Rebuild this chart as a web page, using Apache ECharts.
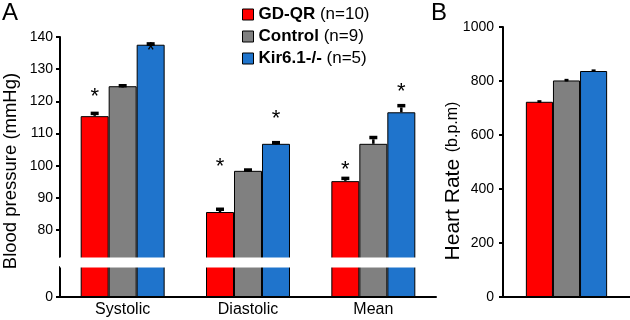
<!DOCTYPE html>
<html>
<head>
<meta charset="utf-8">
<script src="https://cdn.jsdelivr.net/npm/echarts@6/dist/echarts.min.js"></script>
<style>
html, body { margin: 0; padding: 0; background: #fff; }
#chart { width: 630px; height: 320px; }
</style>
</head>
<body>
<div id="chart"></div>
<script>
// 分组
let groupNames = ['GD-QR', 'Control', 'Kir6.1-/-'];
let groupN = ['(n=10)', '(n=9)', '(n=5)'];
let groupColors = ['#ff0000', '#808080', '#1f74cc'];

// 血压 (A)
let bpCategories = ['Systolic', 'Diastolic', 'Mean'];
let bpGdqr = [115.4, 85.6, 95.2];
let bpControl = [124.7, 98.4, 106.8];
let bpKir = [137.6, 106.8, 116.6];
let bpErrGdqr = [1.4, 1.4, 1.4];
let bpErrControl = [0.7, 0.8, 2.5];
let bpErrKir = [0.8, 0.9, 2.6];
// 星号位置 (mmHg)
let bpStarGdqr = [123.0, 101.1, 100.2];
let bpStarControl = [null, null, null];
let bpStarKir = [137.3, 116.0, 124.5];
let bpTicks = [0, 80, 90, 100, 110, 120, 130, 140];

// 心率 (B)
let hrGdqr = [723];
let hrControl = [802];
let hrKir = [837];
let hrErr = [6, 6, 6];
let hrTicks = [0, 200, 400, 600, 800, 1000];

let bpData = [bpGdqr, bpControl, bpKir];
let bpErr = [bpErrGdqr, bpErrControl, bpErrKir];
let bpStar = [bpStarGdqr, bpStarControl, bpStarKir];
let hrData = [hrGdqr, hrControl, hrKir];

const FONT = '"Liberation Sans", Arial, sans-serif';
const GAP_A = 0.33;
const GAP_B = 0.36;

// 误差线 + 星号
function errorBar(k, n, gap, capW, capH) {
    return function (params, api) {
        let cat = api.value(0),
            val = api.value(1),
            err = api.value(2),
            star = api.value(3);
        let band = api.size([1, 0])[0];
        let barW = band * (1 - gap) / n;
        let base = api.coord([cat, val]);
        let x = base[0] + (k - (n - 1) / 2) * barW;
        let yTop = api.coord([cat, val + err])[1];
        let children = [
            {
                type: 'line',
                shape: { x1: x, y1: base[1], x2: x, y2: yTop + capH },
                style: { stroke: '#000', lineWidth: 2.5 }
            },
            {
                type: 'rect',
                shape: { x: x - capW / 2, y: yTop, width: capW, height: capH },
                style: { fill: '#000' }
            }
        ];
        if (isFinite(star)) {
            children.push({
                type: 'text',
                x: x,
                y: api.coord([cat, star])[1] + 5,
                style: {
                    text: '*',
                    font: '22px ' + FONT,
                    fill: '#000',
                    textAlign: 'center',
                    textVerticalAlign: 'middle'
                }
            });
        }
        return { type: 'group', children: children };
    };
}

let series = [];
groupNames.forEach((name, k) => {
    series.push({
        name: name,
        type: 'bar',
        xAxisIndex: 0,
        yAxisIndex: 0,
        data: bpData[k],
        barGap: '0%',
        barCategoryGap: GAP_A * 100 + '%',
        itemStyle: { color: groupColors[k], borderColor: '#000', borderWidth: 1 }
    });
});
groupNames.forEach((name, k) => {
    series.push({
        name: name,
        type: 'bar',
        xAxisIndex: 1,
        yAxisIndex: 1,
        data: hrData[k],
        barGap: '0%',
        barCategoryGap: GAP_B * 100 + '%',
        itemStyle: { color: groupColors[k], borderColor: '#000', borderWidth: 1 }
    });
});
groupNames.forEach((name, k) => {
    series.push({
        type: 'custom',
        xAxisIndex: 0,
        yAxisIndex: 0,
        z: 5,
        renderItem: errorBar(k, 3, GAP_A, 8, 3.5),
        encode: { x: 0, y: 1 },
        data: bpData[k].map((v, i) => [i, v, bpErr[k][i], bpStar[k][i] == null ? '-' : bpStar[k][i]])
    });
    series.push({
        type: 'custom',
        xAxisIndex: 1,
        yAxisIndex: 1,
        z: 5,
        renderItem: errorBar(k, 3, GAP_B, 4, 2.5),
        encode: { x: 0, y: 1 },
        data: hrData[k].map((v, i) => [i, v, hrErr[k], '-'])
    });
});

let axisLine = { show: true, lineStyle: { color: '#000', width: 2 } };
let label = { color: '#000', fontSize: 14, fontFamily: FONT, formatter: v => String(v) };

let option = {
    animation: false,
    backgroundColor: '#fff',
    legend: {
        data: groupNames,
        orient: 'vertical',
        left: 237,
        top: 1,
        icon: 'rect',
        itemWidth: 11,
        itemHeight: 11,
        itemGap: 5,
        itemStyle: { borderColor: '#000', borderWidth: 1 },
        formatter: name => '{b|' + name + '} ' + groupN[groupNames.indexOf(name)],
        textStyle: {
            color: '#000',
            fontSize: 17,
            lineHeight: 17,
            fontFamily: FONT,
            rich: { b: { fontWeight: 'bold', fontSize: 17, fontFamily: FONT, color: '#000' } }
        }
    },
    grid: [
        { left: 60, top: 37, width: 376, height: 260 },
        { left: 503, top: 27, width: 127, height: 270 }
    ],
    xAxis: [
        {
            gridIndex: 0,
            type: 'category',
            data: bpCategories,
            axisLine: axisLine,
            axisTick: { show: false },
            axisLabel: { color: '#000', fontSize: 16, fontFamily: FONT, margin: 5 }
        },
        {
            gridIndex: 1,
            type: 'category',
            data: [''],
            axisLine: axisLine,
            axisTick: { show: false },
            axisLabel: { show: false }
        }
    ],
    yAxis: [
        {
            gridIndex: 0,
            type: 'value',
            min: 0,
            max: 140,
            breaks: [{ start: 9.3, end: 71.6, gap: '3.85%' }],
            breakArea: {
                show: true,
                itemStyle: { color: '#fff', borderWidth: 0, opacity: 1 },
                zigzagAmplitude: 0,
                zigzagZ: 100,
                expandOnClick: false
            },
            axisLine: axisLine,
            axisTick: { show: true, length: 4, lineStyle: { color: '#000', width: 2 }, customValues: bpTicks },
            axisLabel: Object.assign({ margin: 7, customValues: bpTicks }, label),
            splitLine: { show: false }
        },
        {
            gridIndex: 1,
            type: 'value',
            min: 0,
            max: 1000,
            interval: 200,
            axisLine: axisLine,
            axisTick: { show: true, length: 4, lineStyle: { color: '#000', width: 2 }, customValues: hrTicks },
            axisLabel: Object.assign({ margin: 9, customValues: hrTicks }, label),
            splitLine: { show: false }
        }
    ],
    graphic: [
        { type: 'text', left: 2, top: 1, style: { text: 'A', font: '24px ' + FONT, fill: '#000' } },
        { type: 'text', left: 431, top: 1, style: { text: 'B', font: '24px ' + FONT, fill: '#000' } },
        {
            type: 'text', x: 11, y: 171, rotation: Math.PI / 2,
            style: { text: 'Blood pressure (mmHg)', font: '18.5px ' + FONT, fill: '#000', textAlign: 'center', textVerticalAlign: 'middle' }
        },
        {
            type: 'text', x: 453, y: 181, rotation: Math.PI / 2,
            style: {
                text: '{a|Heart Rate}  {b|(b.p.m)}',
                fill: '#000',
                textAlign: 'center',
                textVerticalAlign: 'middle',
                rich: {
                    a: { fontSize: 21, fontFamily: FONT, fill: '#000' },
                    b: { fontSize: 16, fontFamily: FONT, fill: '#000' }
                }
            }
        }
    ],
    series: series
};

let myChart = echarts.init(document.getElementById('chart'));
myChart.setOption(option);
</script>
</body>
</html>
